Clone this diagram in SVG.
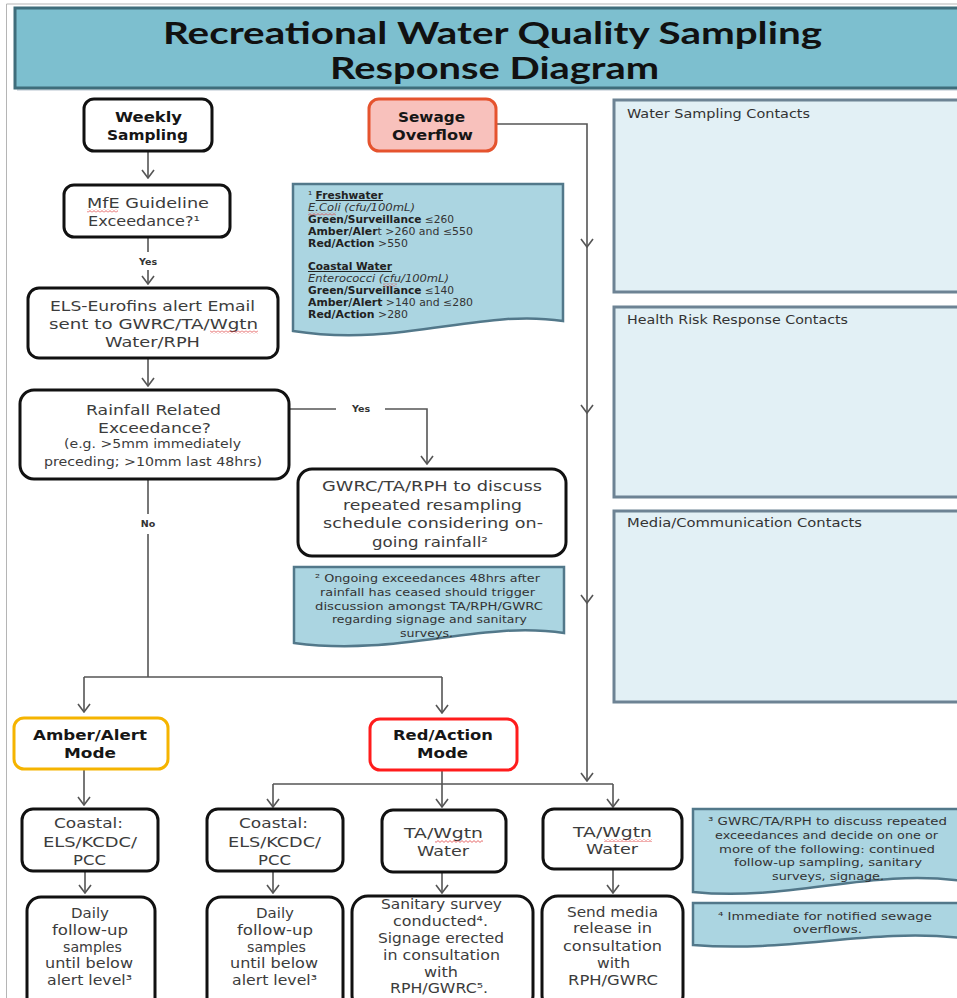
<svg xmlns="http://www.w3.org/2000/svg" width="957" height="998" viewBox="0 0 957 998">
<defs>
<style>
.t{font-family:"DejaVu Sans","Liberation Sans",sans-serif;font-size:14.5px;fill:#3c3c3c}
.b{font-weight:bold;fill:#161616}
.sm{font-size:12px}
.nt{font-family:"DejaVu Sans","Liberation Sans",sans-serif;font-size:11px;fill:#333}
.n1{font-family:"DejaVu Sans","Liberation Sans",sans-serif;font-size:10px;fill:#333}
.bd{font-weight:bold;fill:#222}
.lbl{font-family:"DejaVu Sans","Liberation Sans",sans-serif;font-size:9.5px;font-weight:bold;fill:#333;text-anchor:middle}
.pt{font-family:"DejaVu Sans","Liberation Sans",sans-serif;font-size:12px;fill:#333}
.ttl{font-family:Lato,"Open Sans",sans-serif;font-size:31px;font-weight:bold;fill:#111}
.node{fill:#fff;stroke:#111;stroke-width:3}
.note{fill:#abd5e1;stroke:#52788a;stroke-width:2.5}
.panel{fill:#e2f0f5;stroke:#6d8394;stroke-width:3}
.c{fill:none;stroke:#555;stroke-width:1.6}
.ca{fill:none;stroke:#555;stroke-width:1.6;marker-end:url(#ah)}
</style>
<marker id="ah" viewBox="0 0 10 14" refX="9" refY="7" markerWidth="10" markerHeight="14" markerUnits="userSpaceOnUse" orient="auto">
<path d="M1,1 L9,7 L1,13" fill="none" stroke="#555" stroke-width="1.6"/>
</marker>
<pattern id="sq" width="4" height="3" patternUnits="userSpaceOnUse">
<path d="M0,2.4 L2,0.6 L4,2.4" fill="none" stroke="#e04545" stroke-width="0.8"/>
</pattern>
</defs>
<rect x="0" y="0" width="957" height="998" fill="#fff"/>
<path d="M6.5,4 H957 M6.5,4 V998" fill="none" stroke="#b5b5b5" stroke-width="1"/>

<g id="title">
<rect x="17" y="11" width="960" height="80" fill="#9ab" opacity="0.35"/>
<rect x="15" y="8" width="960" height="80" fill="#7dbfcf" stroke="#3f6d7b" stroke-width="3"/>
<text class="ttl" x="163" y="44" textLength="659" lengthAdjust="spacingAndGlyphs">Recreational Water Quality Sampling</text>
<text class="ttl" x="330" y="79" textLength="329" lengthAdjust="spacingAndGlyphs">Response Diagram</text>
</g>

<g id="panels">
<g id="panel-water">
<rect class="panel" x="614" y="100" width="360" height="192"/>
<text class="pt" x="627" y="118" textLength="183" lengthAdjust="spacingAndGlyphs">Water Sampling Contacts</text>
</g>
<g id="panel-health">
<rect class="panel" x="614" y="307" width="360" height="190"/>
<text class="pt" x="627" y="324" textLength="221" lengthAdjust="spacingAndGlyphs">Health Risk Response Contacts</text>
</g>
<g id="panel-media">
<rect class="panel" x="614" y="511" width="360" height="191"/>
<text class="pt" x="627" y="527" textLength="235" lengthAdjust="spacingAndGlyphs">Media/Communication Contacts</text>
</g>
</g>

<g id="connectors">
<path class="ca" d="M148,152 V178"/>
<path class="c" d="M148,238 V252"/>
<path class="ca" d="M148,270 V284"/>
<path class="ca" d="M148,358 V386"/>
<path class="c" d="M290,409 H336"/>
<path class="ca" d="M385,409 H427 V464"/>
<path class="c" d="M148,480 V514"/>
<path class="c" d="M148,534 V677"/>
<path class="c" d="M84,677 H442"/>
<path class="ca" d="M84,677 V712"/>
<path class="ca" d="M442,677 V713"/>
<path class="ca" d="M497,124 H587 V247"/>
<path class="ca" d="M587,247 V413"/>
<path class="ca" d="M587,413 V603"/>
<path class="ca" d="M587,603 V781"/>
<path class="ca" d="M84,769 V805"/>
<path class="ca" d="M442,770 V807"/>
<path class="c" d="M273,784 H613"/>
<path class="ca" d="M273,784 V807"/>
<path class="ca" d="M613,784 V807"/>
<path class="ca" d="M85,871 V893"/>
<path class="ca" d="M273,871 V893"/>
<path class="ca" d="M442,872 V893"/>
<path class="ca" d="M613,869 V893"/>
<text class="lbl" x="148" y="265">Yes</text>
<text class="lbl" x="361" y="412">Yes</text>
<text class="lbl" x="148" y="527">No</text>
</g>

<g id="weekly">
<rect class="node" x="84" y="99" width="128" height="52" rx="10"/>
<text class="t b" x="115" y="122" textLength="67" lengthAdjust="spacingAndGlyphs">Weekly</text>
<text class="t b" x="107" y="140" textLength="81" lengthAdjust="spacingAndGlyphs">Sampling</text>
</g>

<g id="sewage">
<rect x="369" y="99" width="127" height="52" rx="10" fill="#f8c1bc" stroke="#e5532e" stroke-width="3"/>
<text class="t b" x="398" y="122" textLength="67" lengthAdjust="spacingAndGlyphs">Sewage</text>
<text class="t b" x="392" y="140" textLength="81" lengthAdjust="spacingAndGlyphs">Overflow</text>
</g>

<g id="mfe">
<rect class="node" x="64" y="185" width="166" height="52" rx="10"/>
<text class="t" x="87" y="208" textLength="122" lengthAdjust="spacingAndGlyphs">MfE Guideline</text>
<text class="t" x="88" y="226" textLength="112" lengthAdjust="spacingAndGlyphs">Exceedance?¹</text>
<rect x="87" y="209.5" width="31" height="3" fill="url(#sq)"/>
</g>

<g id="els">
<rect class="node" x="28" y="288" width="250" height="70" rx="11"/>
<text class="t" x="50" y="311" textLength="205" lengthAdjust="spacingAndGlyphs">ELS-Eurofins alert Email</text>
<text class="t" x="49" y="329" textLength="209" lengthAdjust="spacingAndGlyphs">sent to GWRC/TA/Wgtn</text>
<text class="t" x="105" y="347" textLength="95" lengthAdjust="spacingAndGlyphs">Water/RPH</text>
<rect x="210" y="330.5" width="48" height="3" fill="url(#sq)"/>
</g>

<g id="rainfall">
<rect class="node" x="20" y="390" width="269" height="89" rx="14"/>
<text class="t" x="86" y="415" textLength="135" lengthAdjust="spacingAndGlyphs">Rainfall Related</text>
<text class="t" x="98" y="433" textLength="113" lengthAdjust="spacingAndGlyphs">Exceedance?</text>
<text class="t sm" x="64" y="448" textLength="177" lengthAdjust="spacingAndGlyphs">(e.g. &gt;5mm immediately</text>
<text class="t sm" x="44" y="466" textLength="218" lengthAdjust="spacingAndGlyphs">preceding; &gt;10mm last 48hrs)</text>
</g>

<g id="note1">
<path class="note" d="M293,184 H563 V321 C480,308 400,348 293,331 Z"/>
<text class="n1" x="308" y="199" textLength="75" lengthAdjust="spacingAndGlyphs">¹ <tspan class="bd" text-decoration="underline">Freshwater</tspan></text>
<text class="n1" x="308" y="211" textLength="107" lengthAdjust="spacingAndGlyphs" font-style="italic">E.Coli (cfu/100mL)</text>
<text class="n1" x="308" y="223" textLength="146" lengthAdjust="spacingAndGlyphs"><tspan class="bd">Green/Surveillance</tspan> ≤260</text>
<text class="n1" x="308" y="235" textLength="165" lengthAdjust="spacingAndGlyphs"><tspan class="bd">Amber/Aler</tspan>t &gt;260 and ≤550</text>
<text class="n1" x="308" y="247" textLength="100" lengthAdjust="spacingAndGlyphs"><tspan class="bd">Red/Action</tspan> &gt;550</text>
<text class="n1" x="308" y="270" textLength="84" lengthAdjust="spacingAndGlyphs"><tspan class="bd" text-decoration="underline">Coastal Water</tspan></text>
<text class="n1" x="308" y="282" textLength="141" lengthAdjust="spacingAndGlyphs" font-style="italic">Enterococci (cfu/100mL)</text>
<text class="n1" x="308" y="294" textLength="146" lengthAdjust="spacingAndGlyphs"><tspan class="bd">Green/Surveillance</tspan> ≤140</text>
<text class="n1" x="308" y="306" textLength="165" lengthAdjust="spacingAndGlyphs"><tspan class="bd">Amber/Alert</tspan> &gt;140 and ≤280</text>
<text class="n1" x="308" y="318" textLength="100" lengthAdjust="spacingAndGlyphs"><tspan class="bd">Red/Action</tspan> &gt;280</text>
<rect x="308" y="212.5" width="28" height="3" fill="url(#sq)"/>
<rect x="383" y="283.5" width="14" height="3" fill="url(#sq)"/>
</g>

<g id="gwrc-discuss">
<rect class="node" x="298" y="469" width="268" height="87" rx="14"/>
<text class="t" x="322" y="491" textLength="220" lengthAdjust="spacingAndGlyphs">GWRC/TA/RPH to discuss</text>
<text class="t" x="343" y="510" textLength="179" lengthAdjust="spacingAndGlyphs">repeated resampling</text>
<text class="t" x="323" y="528" textLength="220" lengthAdjust="spacingAndGlyphs">schedule considering on-</text>
<text class="t" x="372" y="547" textLength="116" lengthAdjust="spacingAndGlyphs">going rainfall²</text>
</g>

<g id="note2">
<path class="note" d="M294,567 H564 V633 C480,620 400,657 294,643 Z"/>
<text class="nt" x="315" y="582" textLength="225" lengthAdjust="spacingAndGlyphs">² Ongoing exceedances 48hrs after</text>
<text class="nt" x="320" y="596" textLength="215" lengthAdjust="spacingAndGlyphs">rainfall has ceased should trigger</text>
<text class="nt" x="315" y="610" textLength="228" lengthAdjust="spacingAndGlyphs">discussion amongst TA/RPH/GWRC</text>
<text class="nt" x="332" y="623" textLength="195" lengthAdjust="spacingAndGlyphs">regarding signage and sanitary</text>
<text class="nt" x="400" y="637" textLength="53" lengthAdjust="spacingAndGlyphs">surveys.</text>
</g>

<g id="amber">
<rect x="14" y="718" width="154" height="51" rx="10" fill="#fff" stroke="#f5b400" stroke-width="3"/>
<text class="t b" x="33" y="740" textLength="114" lengthAdjust="spacingAndGlyphs">Amber/Alert</text>
<text class="t b" x="64" y="758" textLength="52" lengthAdjust="spacingAndGlyphs">Mode</text>
</g>

<g id="red">
<rect x="370" y="719" width="147" height="51" rx="10" fill="#fff" stroke="#ff1c1c" stroke-width="3"/>
<text class="t b" x="393" y="740" textLength="100" lengthAdjust="spacingAndGlyphs">Red/Action</text>
<text class="t b" x="417" y="758" textLength="51" lengthAdjust="spacingAndGlyphs">Mode</text>
</g>

<g id="coastal1">
<rect class="node" x="22" y="809" width="136" height="62" rx="11"/>
<text class="t" x="54" y="828" textLength="69" lengthAdjust="spacingAndGlyphs">Coastal:</text>
<text class="t" x="43" y="847" textLength="94" lengthAdjust="spacingAndGlyphs">ELS/KCDC/</text>
<text class="t" x="73" y="865" textLength="33" lengthAdjust="spacingAndGlyphs">PCC</text>
</g>

<g id="coastal2">
<rect class="node" x="207" y="809" width="136" height="62" rx="11"/>
<text class="t" x="239" y="828" textLength="69" lengthAdjust="spacingAndGlyphs">Coastal:</text>
<text class="t" x="228" y="847" textLength="93" lengthAdjust="spacingAndGlyphs">ELS/KCDC/</text>
<text class="t" x="258" y="865" textLength="33" lengthAdjust="spacingAndGlyphs">PCC</text>
</g>

<g id="ta-wgtn1">
<rect class="node" x="382" y="810" width="124" height="62" rx="11"/>
<text class="t" x="404" y="838" textLength="79" lengthAdjust="spacingAndGlyphs">TA/Wgtn</text>
<text class="t" x="417" y="856" textLength="52" lengthAdjust="spacingAndGlyphs">Water</text>
<rect x="435" y="840" width="48" height="3" fill="url(#sq)"/>
</g>

<g id="ta-wgtn2">
<rect class="node" x="543" y="809" width="139" height="60" rx="11"/>
<text class="t" x="573" y="837" textLength="79" lengthAdjust="spacingAndGlyphs">TA/Wgtn</text>
<text class="t" x="586" y="854" textLength="52" lengthAdjust="spacingAndGlyphs">Water</text>
<rect x="604" y="839" width="48" height="3" fill="url(#sq)"/>
</g>

<g id="daily1">
<rect class="node" x="27" y="897" width="128" height="115" rx="14"/>
<text class="t" x="71" y="918" textLength="38" lengthAdjust="spacingAndGlyphs">Daily</text>
<text class="t" x="52" y="935" textLength="76" lengthAdjust="spacingAndGlyphs">follow-up</text>
<text class="t" x="63" y="952" textLength="59" lengthAdjust="spacingAndGlyphs">samples</text>
<text class="t" x="45" y="968" textLength="88" lengthAdjust="spacingAndGlyphs">until below</text>
<text class="t" x="47" y="985" textLength="85" lengthAdjust="spacingAndGlyphs">alert level³</text>
</g>

<g id="daily2">
<rect class="node" x="207" y="897" width="136" height="115" rx="14"/>
<text class="t" x="256" y="918" textLength="38" lengthAdjust="spacingAndGlyphs">Daily</text>
<text class="t" x="237" y="935" textLength="76" lengthAdjust="spacingAndGlyphs">follow-up</text>
<text class="t" x="247" y="952" textLength="59" lengthAdjust="spacingAndGlyphs">samples</text>
<text class="t" x="230" y="968" textLength="88" lengthAdjust="spacingAndGlyphs">until below</text>
<text class="t" x="232" y="985" textLength="85" lengthAdjust="spacingAndGlyphs">alert level³</text>
</g>

<g id="sanitary">
<rect class="node" x="352" y="896" width="181" height="115" rx="16"/>
<text class="t" x="381" y="909" textLength="121" lengthAdjust="spacingAndGlyphs">Sanitary survey</text>
<text class="t" x="393" y="926" textLength="95" lengthAdjust="spacingAndGlyphs">conducted⁴.</text>
<text class="t" x="378" y="943" textLength="126" lengthAdjust="spacingAndGlyphs">Signage erected</text>
<text class="t" x="383" y="960" textLength="117" lengthAdjust="spacingAndGlyphs">in consultation</text>
<text class="t" x="424" y="977" textLength="34" lengthAdjust="spacingAndGlyphs">with</text>
<text class="t" x="390" y="993" textLength="98" lengthAdjust="spacingAndGlyphs">RPH/GWRC⁵.</text>
</g>

<g id="media-release">
<rect class="node" x="542" y="896" width="141" height="115" rx="16"/>
<text class="t" x="567" y="917" textLength="91" lengthAdjust="spacingAndGlyphs">Send media</text>
<text class="t" x="573" y="933" textLength="79" lengthAdjust="spacingAndGlyphs">release in</text>
<text class="t" x="563" y="951" textLength="99" lengthAdjust="spacingAndGlyphs">consultation</text>
<text class="t" x="597" y="968" textLength="33" lengthAdjust="spacingAndGlyphs">with</text>
<text class="t" x="568" y="985" textLength="90" lengthAdjust="spacingAndGlyphs">RPH/GWRC</text>
</g>

<g id="note3">
<path class="note" d="M693,809 H962 V881 C870,868 790,902 693,892 Z"/>
<text class="nt" x="708" y="825" textLength="239" lengthAdjust="spacingAndGlyphs">³ GWRC/TA/RPH to discuss repeated</text>
<text class="nt" x="715" y="839" textLength="223" lengthAdjust="spacingAndGlyphs">exceedances and decide on one or</text>
<text class="nt" x="719" y="853" textLength="216" lengthAdjust="spacingAndGlyphs">more of the following: continued</text>
<text class="nt" x="734" y="866" textLength="188" lengthAdjust="spacingAndGlyphs">follow-up sampling, sanitary</text>
<text class="nt" x="772" y="880" textLength="112" lengthAdjust="spacingAndGlyphs">surveys, signage.</text>
</g>

<g id="note4">
<path class="note" d="M693,903 H962 V938 C870,928 790,953 693,945 Z"/>
<text class="nt" x="718" y="920" textLength="214" lengthAdjust="spacingAndGlyphs">⁴ Immediate for notified sewage</text>
<text class="nt" x="793" y="933" textLength="69" lengthAdjust="spacingAndGlyphs">overflows.</text>
</g>
</svg>
